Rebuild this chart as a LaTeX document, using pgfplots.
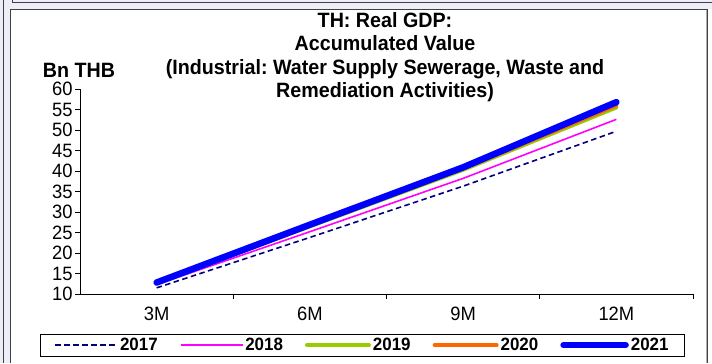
\documentclass[border=0pt]{standalone}
\usepackage{fontspec}
\setmainfont{Liberation Sans}[FakeStretch=0.95]
\usepackage{pgfplots}
\pgfplotsset{compat=1.18}
\definecolor{c2017}{HTML}{000080}
\definecolor{c2018}{HTML}{FF00FF}
\definecolor{c2019}{HTML}{99CC00}
\definecolor{c2020}{HTML}{FF6600}
\definecolor{c2021}{HTML}{0000FF}
\definecolor{lav}{HTML}{EEEEF8}
\definecolor{frm}{HTML}{404040}
\frenchspacing
\begin{document}
\begin{tikzpicture}[x=1bp,y=1bp]
\useasboundingbox (0,0) rectangle (712,363);
\fill[white] (0,0) rectangle (712,363);
\fill[lav] (0,0) rectangle (10,363);
\fill[lav] (10,353.5) rectangle (712,363);
\draw[frm,line width=1bp] (3,0) -- (3,363);
\draw[frm,line width=1bp] (12,363) -- (12,360.5) -- (712,360.5);
\draw[frm,line width=1bp] (10,0) -- (10,353.5) -- (707.5,353.5) -- (707.5,0);
\draw[gray!60,line width=1bp] (706,0) -- (706,352.5);
\node[align=center,font=\fontsize{20.8}{23.5}\selectfont\bfseries] at (385,306) {TH: Real GDP:\\Accumulated Value\\(Industrial: Water Supply Sewerage, Waste and\\Remediation Activities)};
\node[font=\fontsize{20.8}{22}\selectfont\bfseries] at (79,293) {Bn THB};
\begin{axis}[
  at={(80bp,69bp)}, anchor=south west,
  scale only axis, width=613bp, height=205bp,
  xmin=0.5, xmax=4.5, ymin=10, ymax=60,
  axis x line=bottom, axis y line=left,
  axis line style={-, black, line width=0.8bp},
  xtick={1,2,3,4}, xticklabels={3M,6M,9M,12M},
  minor xtick={1.5,2.5,3.5,4.5},
  major x tick style={draw=none},
  ytick={10,15,...,60},
  tick align=outside,
  major tick length=5bp, minor tick length=5bp,
  tick style={black, line width=0.8bp},
  /pgf/number format/assume math mode=true,
  ticklabel style={font=\fontsize{19.4}{21}\selectfont},
  yticklabel style={xshift=1bp},
  xticklabel style={yshift=-4bp},
  legend columns=5,
  legend style={at={(0.4608,-0.249)}, anchor=center, draw=black, line width=0.8bp,
    font=\fontsize{17.9}{20}\selectfont\bfseries, inner xsep=14bp, inner ysep=2bp,
    /tikz/every even column/.append style={column sep=20bp}},
  legend image code/.code={\draw[#1] (0bp,0bp) -- (62bp,0bp);},
]
\addplot[c2017, line width=1.6bp, dash pattern=on 5.5bp off 3.5bp] coordinates {(1,11.5) (2,23.8) (3,36.3) (4,49.7)};
\addlegendentry{2017}
\addplot[c2018, line width=1.6bp] coordinates {(1,12.3) (2,25.2) (3,38.2) (4,52.6)};
\addlegendentry{2018}
\addplot[c2019, line width=4bp, line cap=round] coordinates {(1,12.6) (2,26.5) (3,40.3) (4,55.5)};
\addlegendentry{2019}
\addplot[c2020, line width=4bp, line cap=round] coordinates {(1,12.8) (2,26.8) (3,40.6) (4,56.0)};
\addlegendentry{2020}
\addplot[c2021, line width=6.5bp, line cap=round] coordinates {(1,12.8) (2,26.9) (3,40.9) (4,56.8)};
\addlegendentry{2021}
\end{axis}
\end{tikzpicture}
\end{document}
